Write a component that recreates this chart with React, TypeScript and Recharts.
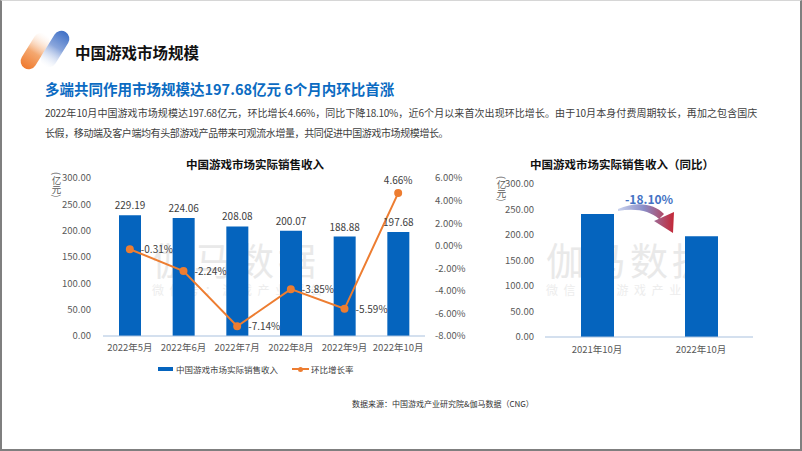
import React from 'react';
import { ComposedChart, BarChart, Bar, Line, XAxis, YAxis, LabelList } from 'recharts';

const FONT = '"Noto Sans CJK SC", "Noto Sans", sans-serif';
const BLUE = '#0564be';
const ORANGE = '#ed7d31';
const AXIS = '#a9c1de';
const TICK = '#595959';

// 月度实际销售收入（亿元）与环比
const MONTHS = ['2022年5月', '2022年6月', '2022年7月', '2022年8月', '2022年9月', '2022年10月'];
const REVENUE = [229.19, 224.06, 208.08, 200.07, 188.88, 197.68];
const MOM = [-0.31, -2.24, -7.14, -3.85, -5.59, 4.66];
const LEFT_TICKS = [0, 50, 100, 150, 200, 250, 300];
const RIGHT_TICKS = [-8, -6, -4, -2, 0, 2, 4, 6];

// 同比
const YOY_CATS = ['2021年10月', '2022年10月'];
const YOY_REVENUE = [241.37, 197.68];
const YOY_CHANGE = '-18.10%';

const monthly = MONTHS.map((m, i) => ({ month: m, revenue: REVENUE[i], mom: MOM[i] }));
const yoy = YOY_CATS.map((c, i) => ({ cat: c, revenue: YOY_REVENUE[i] }));

function MomLabel(props: any) {
  const { x, y, value, index } = props;
  const last = index === MOM.length - 1;
  return (
    <text
      x={last ? x : x + 11}
      y={last ? y - 9 : y + 4}
      textAnchor={last ? 'middle' : 'start'}
      fontSize={10}
      fill="#404040"
      fontFamily={FONT}
    >
      {Number(value).toFixed(2)}%
    </text>
  );
}

function UnitLabel({ left, top }: { left: number; top: number }) {
  return (
    <div
      style={{
        position: 'absolute',
        left,
        top,
        writingMode: 'vertical-rl',
        fontSize: 9.5,
        color: TICK,
        lineHeight: 1,
      }}
    >
      (亿元)
    </div>
  );
}

function Watermark({ x, y }: { x: number; y: number }) {
  return (
    <g fontFamily={FONT}>
      <text x={x} y={y} fontSize={38} fill="#e9e9e9" letterSpacing={4}>
        伽马数据
      </text>
      <text x={x} y={y + 20} fontSize={12} fill="#ededed" letterSpacing={5.6}>
        微信号：游戏产业报告
      </text>
    </g>
  );
}

export default function App() {
  return (
    <div
      style={{
        position: 'absolute',
        left: 0,
        top: 0,
        width: 802,
        height: 451,
        background: '#fff',
        fontFamily: FONT,
        overflow: 'hidden',
        boxSizing: 'border-box',
        borderLeft: '2px solid #7f7f7f',
        borderRight: '2px solid #7f7f7f',
        borderBottom: '2px solid #7f7f7f',
        borderTop: '1px solid #d6d6d6',
      }}
    >
      {/* watermarks behind the charts */}
      <svg width={802} height={451} style={{ position: 'absolute', left: -2, top: -1 }}>
        <Watermark x={152} y={275} />
        <Watermark x={546} y={275} />
      </svg>

      {/* logo */}
      <svg width={70} height={60} style={{ position: 'absolute', left: 13, top: 19 }}>
        <defs>
          <linearGradient id="lgO" x1="0" y1="1" x2="0" y2="0">
            <stop offset="0" stopColor="#ef7a2e" />
            <stop offset="0.45" stopColor="#f4a870" />
            <stop offset="1" stopColor="#ffffff" stopOpacity="0.2" />
          </linearGradient>
          <linearGradient id="lgB" x1="0" y1="0" x2="0" y2="1">
            <stop offset="0" stopColor="#3f70c6" />
            <stop offset="0.45" stopColor="#8aa6dc" />
            <stop offset="1" stopColor="#ffffff" stopOpacity="0.2" />
          </linearGradient>
        </defs>
        <rect x={-8} y={-20} width={16} height={40} rx={8} fill="url(#lgO)" transform="translate(20 31) rotate(32)" />
        <rect x={-8} y={-20} width={16} height={40} rx={8} fill="url(#lgB)" transform="translate(40 29) rotate(32)" />
      </svg>

      <div style={{ position: 'absolute', left: 73, top: 40, fontSize: 15.5, fontWeight: 700, color: '#111' }}>
        中国游戏市场规模
      </div>
      <div style={{ position: 'absolute', left: 43, top: 77, fontSize: 14.5, fontWeight: 700, color: '#0b6bc2' }}>
        多端共同作用市场规模达197.68亿元 6个月内环比首涨
      </div>
      <div
        style={{
          position: 'absolute',
          left: 43,
          top: 104,
          width: 712,
          fontSize: 10,
          color: '#404040',
          textAlign: 'justify',
          textAlignLast: 'justify',
          whiteSpace: 'nowrap',
          letterSpacing: -0.3,
        }}
      >
        2022年10月中国游戏市场规模达197.68亿元，环比增长4.66%，同比下降18.10%，近6个月以来首次出现环比增长。由于10月本身付费周期较长，再加之包含国庆
      </div>
      <div style={{ position: 'absolute', left: 43, top: 124, fontSize: 10, color: '#404040', letterSpacing: -0.4 }}>
        长假，移动端及客户端均有头部游戏产品带来可观流水增量，共同促进中国游戏市场规模增长。
      </div>

      {/* left chart */}
      <div style={{ position: 'absolute', left: 110, top: 155, width: 286, textAlign: 'center', fontSize: 11.5, fontWeight: 700, color: '#111' }}>
        中国游戏市场实际销售收入
      </div>
      <UnitLabel left={49} top={171} />
      <div style={{ position: 'absolute', left: -2, top: 169 }}>
        <ComposedChart width={480} height={200} data={monthly} margin={{ top: 8, right: 10, bottom: 4, left: 0 }} barCategoryGap={0}>
          <XAxis
            dataKey="month"
            height={30}
            tickLine={false}
            tickSize={0}
            tickMargin={8}
            axisLine={{ stroke: AXIS }}
            tick={{ fontSize: 9.5, fill: TICK, fontFamily: FONT }}
            interval={0}
          />
          <YAxis
            yAxisId="left"
            width={103}
            domain={[0, 300]}
            ticks={LEFT_TICKS}
            tickFormatter={(v: number) => v.toFixed(2)}
            axisLine={false}
            tickLine={false}
            tickSize={0}
            tickMargin={12}
            tick={{ fontSize: 9.5, fill: TICK, fontFamily: FONT }}
          />
          <YAxis
            yAxisId="right"
            orientation="right"
            width={45}
            domain={[-8, 6]}
            ticks={RIGHT_TICKS}
            tickFormatter={(v: number) => v.toFixed(2) + '%'}
            axisLine={false}
            tickLine={false}
            tickSize={0}
            tickMargin={10}
            tick={{ fontSize: 9.5, fill: TICK, fontFamily: FONT, textAnchor: 'start' }}
          />
          <Bar yAxisId="left" dataKey="revenue" fill={BLUE} barSize={22} isAnimationActive={false}>
            <LabelList
              dataKey="revenue"
              position="top"
              offset={6}
              fontSize={10}
              fill="#404040"
              fontFamily={FONT}
              formatter={(v: any) => Number(v).toFixed(2)}
            />
          </Bar>
          <Line
            yAxisId="right"
            dataKey="mom"
            stroke={ORANGE}
            strokeWidth={2}
            dot={{ r: 3, fill: ORANGE, stroke: ORANGE }}
            isAnimationActive={false}
          >
            <LabelList dataKey="mom" content={<MomLabel />} />
          </Line>
        </ComposedChart>
      </div>

      {/* legend */}
      <div style={{ position: 'absolute', left: 156, top: 362, fontSize: 8.5, color: '#404040', display: 'flex', alignItems: 'center' }}>
        <span style={{ display: 'inline-block', width: 15, height: 4, background: BLUE, marginRight: 3 }} />
        <span>中国游戏市场实际销售收入</span>
        <span style={{ position: 'relative', display: 'inline-block', width: 17, height: 8, marginLeft: 14, marginRight: 2 }}>
          <span style={{ position: 'absolute', left: 0, top: 3, width: 17, height: 2, background: ORANGE }} />
          <span style={{ position: 'absolute', left: 6, top: 1.5, width: 5, height: 5, borderRadius: 3, background: ORANGE }} />
        </span>
        <span>环比增长率</span>
      </div>

      {/* right chart */}
      <div style={{ position: 'absolute', left: 480, top: 155, width: 280, textAlign: 'center', fontSize: 11.5, fontWeight: 700, color: '#111' }}>
        中国游戏市场实际销售收入（同比）
      </div>
      <UnitLabel left={494} top={175} />
      <div style={{ position: 'absolute', left: 478, top: 169 }}>
        <BarChart width={300} height={200} data={yoy} margin={{ top: 14, right: 27, bottom: 3, left: 0 }} barCategoryGap={0}>
          <XAxis
            dataKey="cat"
            height={30}
            tickLine={false}
            tickSize={0}
            tickMargin={9}
            axisLine={{ stroke: AXIS }}
            tick={{ fontSize: 9.5, fill: TICK, fontFamily: FONT }}
            interval={0}
          />
          <YAxis
            width={65}
            domain={[0, 300]}
            ticks={LEFT_TICKS}
            tickFormatter={(v: number) => v.toFixed(2)}
            axisLine={false}
            tickLine={false}
            tickSize={0}
            tickMargin={11}
            tick={{ fontSize: 9.5, fill: TICK, fontFamily: FONT }}
          />
          <Bar dataKey="revenue" fill={BLUE} barSize={33} isAnimationActive={false} />
        </BarChart>
      </div>

      {/* yoy arrow + label */}
      <svg width={802} height={451} style={{ position: 'absolute', left: -2, top: -1, pointerEvents: 'none' }}>
        <defs>
          <linearGradient id="arrowG" x1="618" y1="0" x2="676" y2="0" gradientUnits="userSpaceOnUse">
            <stop offset="0" stopColor="#c9d3ee" />
            <stop offset="0.45" stopColor="#8a8cc6" />
            <stop offset="1" stopColor="#c8202c" />
          </linearGradient>
        </defs>
        <path
          d="M618 209 C 636 201, 654 203, 664 214 L 659 219 C 650 211, 636 208, 618 211 Z M 654 221 L 674 212 L 673 233 Z"
          fill="url(#arrowG)"
        />
        <text x={649} y={204} textAnchor="middle" fontSize={12} fontWeight={700} fill="#4472c4" fontFamily={FONT}>
          {YOY_CHANGE}
        </text>
      </svg>

      <div style={{ position: 'absolute', left: 350, top: 397, fontSize: 8, color: '#333' }}>
        数据来源：中国游戏产业研究院&伽马数据（CNG）
      </div>
    </div>
  );
}
